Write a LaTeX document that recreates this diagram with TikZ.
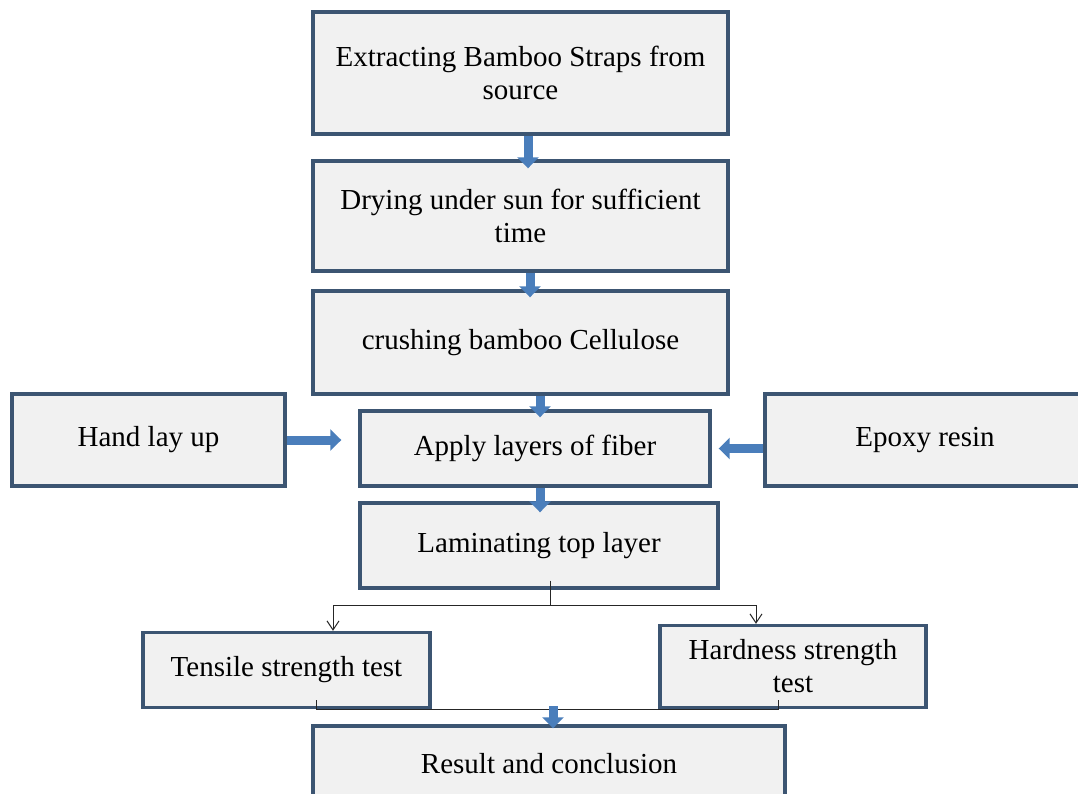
\documentclass[tikz,border=0pt]{standalone}
\usepackage{fontspec}
\setmainfont{Liberation Serif}
\usetikzlibrary{arrows.meta}
\definecolor{boxborder}{HTML}{3C5572}
\definecolor{boxfill}{HTML}{F1F1F1}
\definecolor{arrowblue}{HTML}{4A7EBB}
\tikzset{
  box/.style={draw=boxborder, line width=3.4pt, fill=boxfill, align=center,
    inner sep=0pt, font=\fontsize{29}{33}\selectfont},
  blockarrow/.style={draw=arrowblue, line width=9pt,
    -{Triangle[length=11pt,width=21pt]}},
  thinline/.style={draw=black!85, line width=1pt},
  thinarrow/.style={thinline, -{Straight Barb[length=9pt,width=12pt]}},
}
\begin{document}
\begin{tikzpicture}[x=1pt,y=-1pt]
\useasboundingbox (0,0) rectangle (1078,794);
\clip (0,0) rectangle (1078,794);
\fill[white] (0,0) rectangle (1078,794);

\node[box, minimum width=415pt, minimum height=122pt] (n1) at (520.5,73) {Extracting Bamboo Straps from\\source};
\node[box, minimum width=415pt, minimum height=110pt] (n2) at (520.5,216) {Drying under sun for sufficient\\time};
\node[box, minimum width=415pt, minimum height=103pt] (n3) at (520.5,342.5) {crushing bamboo Cellulose};
\node[box, minimum width=350pt, minimum height=75pt] (n4) at (535,448.5) {Apply layers of fiber};
\node[box, minimum width=273pt, minimum height=92pt] (n5) at (148.5,440) {Hand lay up};
\node[box, minimum width=320pt, minimum height=92pt] (n6) at (925,440) {Epoxy resin};
\node[box, minimum width=358pt, minimum height=85pt] (n7) at (539,545.5) {Laminating top layer};
\node[box, minimum width=287pt, minimum height=75pt] (n8) at (286.5,670) {Tensile strength test};
\node[box, minimum width=266pt, minimum height=82pt] (n9) at (793,666.5) {Hardness strength\\test};
\node[box, minimum width=472pt, minimum height=76pt] (n10) at (549,764) {Result and conclusion};

% block arrows
\draw[blockarrow] ([xshift=7.5pt]n1.south) -- ([xshift=7.5pt,yshift=-9pt]n2.north);
\draw[blockarrow] ([xshift=9.5pt]n2.south) -- ([xshift=9.5pt,yshift=-8pt]n3.north);
\draw[blockarrow] ([xshift=19.5pt]n3.south) -- ([xshift=5pt,yshift=-8pt]n4.north);
\draw[blockarrow] ([xshift=5pt]n4.south) -- ([xshift=1pt,yshift=-11pt]n7.north);
\draw[blockarrow, shorten >=17pt] (n5.east) -- (n5.east -| n4.west);
\draw[blockarrow, shorten >=7pt] (n6.west |- n4.east) -- (n4.east);

% split connector
\coordinate (split) at (550,605);
\draw[thinline] ([xshift=11pt,yshift=9pt]n7.south) -- (split);
\draw[thinarrow] (split) -| ([xshift=46.5pt]n8.north);
\draw[thinarrow] (split) -| ([xshift=-37pt]n9.north);

% merge connector
\draw[thinline] ([shift={(175pt,9pt)}]n8.south west) |- ([xshift=120pt]n9.south west) -- ([shift={(120pt,9pt)}]n9.south west);
\draw[blockarrow] ([xshift=4pt,yshift=3pt]n10.north |- n8.south) -- ([xshift=4pt,yshift=-4pt]n10.north);
\end{tikzpicture}
\end{document}
